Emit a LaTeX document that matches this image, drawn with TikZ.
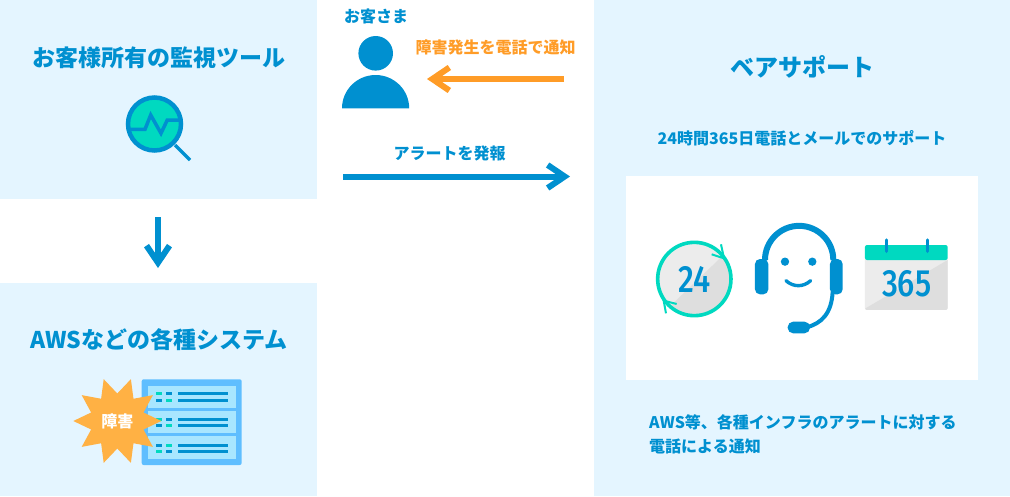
\documentclass[tikz,border=0pt]{standalone}
\usepackage{fontspec}
\setmainfont{Noto Sans CJK JP}
\newfontfamily\numfont{Fira Sans Medium}
\usetikzlibrary{arrows.meta,shapes.geometric}
\definecolor{panelblue}{HTML}{E4F5FF}
\definecolor{mainblue}{HTML}{0090D0}
\definecolor{mainteal}{HTML}{00D9C0}
\definecolor{alertorange}{HTML}{FF9C27}
\definecolor{burst}{HTML}{FFB144}
\definecolor{rack}{HTML}{5FBEFF}
\definecolor{rackrow}{HTML}{A8E6FF}
\definecolor{greylight}{HTML}{ECECEC}
\definecolor{greydark}{HTML}{DEDEDE}

\begin{document}
\begin{tikzpicture}[
    x=1pt, y=-1pt,
    title/.style = {text = mainblue, font = \fontsize{23}{28}\selectfont\bfseries},
    label/.style = {text = mainblue, font = \fontsize{16}{24}\selectfont\bfseries},
    digits/.style = {text = mainblue, xscale = .82, font = \fontsize{38}{40}\selectfont\numfont},
    bluearrow/.style = {draw = mainblue, line width = 6pt, -{Straight Barb[length=17pt,width=23pt]}},
    orangearrow/.style = {draw = alertorange, line width = 6pt, -{Straight Barb[length=17pt,width=23pt]}},
    ringtip/.style = {draw = mainteal, line width = 2pt},
  ]
	\useasboundingbox (0,0) rectangle (1010,496);
	
	% Flaechen
	\fill[panelblue] (0,0) rectangle (317,199);
	\fill[panelblue] (0,283) rectangle (317,496);
	\fill[panelblue] (594,0) rectangle (1010,496);
	\fill[white] (626,176) rectangle (978,380);
	
	% Texte
	\node[title] (ToolTitle) at (159,58) {お客様所有の監視ツール};
	\node[title] (SystemTitle) at (159,340) {AWSなどの各種システム};
	\node[title, font = \fontsize{24}{28}\selectfont\bfseries] (SupportTitle) at (802.5,67) {ベアサポート};
	\node[label] (Customer) at (376,16) {お客さま};
	\node[label, text = alertorange] (PhoneLabel) at (495.5,47) {障害発生を電話で通知};
	\node[label] (AlertLabel) at (449.5,153) {アラートを発報};
	\node[label] (SupportLabel) at (802,138) {24時間365日電話とメールでのサポート};
	\node[label, align = left, anchor = west] (NoteLabel) at (645.7,434) {AWS等、各種インフラのアラートに対する\\電話による通知};
	
	% Pfeile
	\coordinate (PhoneStart) at (564,79);
	\coordinate (PhoneEnd) at (427,79);
	\coordinate (AlertStart) at (343,176.5);
	\coordinate (AlertEnd) at (570,176.5);
	\coordinate (DownStart) at (158,217);
	\coordinate (DownEnd) at (158,268);
	\draw[orangearrow] (PhoneStart) -- (PhoneEnd);
	\draw[bluearrow] (AlertStart) -- (AlertEnd);
	\draw[bluearrow] (DownStart) -- (DownEnd);
	
	% Person
	\fill[mainblue] (375.7,53.3) circle (17.3);
	\fill[mainblue] (342,108.3) arc (180:360:33.6 and 33.3) -- cycle;
	
	% Lupe
	\fill[mainteal] (154.5,124) circle (26.5);
	\draw[mainblue, line width = 4.5pt] (154.5,124) circle (26.5);
	\draw[mainblue, line width = 3.5pt] (175,145) -- (190,160);
	\draw[mainblue, line width = 3.5pt] (127,129.3) -- (145,129.3) -- (150.7,115) -- (161,133.3) -- (167.3,120) -- (180,120);
	
	% Server
	\fill[rack, rounded corners = 2pt] (141.7,379.3) rectangle (241.7,465);
	\foreach \top/\bot/\ya/\yb/\one/\two in {385.7/407.7/393.7/400.3/mainteal/mainblue, 410.7/433.3/419.3/425.7/mainteal/mainblue, 436.3/459/445/451.3/mainblue/mainteal}{
		\fill[rackrow] (147.7,\top) rectangle (235.7,\bot);
		\fill[\one] (156.3,\ya-1.5) rectangle (162.3,\ya+1.5);
		\fill[\two] (166,\ya-1.5) rectangle (172,\ya+1.5);
		\fill[\two] (156.3,\yb-1.5) rectangle (162.3,\yb+1.5);
		\fill[\one] (166,\yb-1.5) rectangle (172,\yb+1.5);
		\fill[mainblue] (178.3,\ya-1.5) rectangle (227.7,\ya+1.5);
		\fill[mainblue] (178.3,\yb-1.5) rectangle (227.7,\yb+1.5);
	}
	\node[star, star points = 10, star point ratio = 1.6, shape border rotate = 18,
		minimum size = 88pt, inner sep = 0pt, fill = burst, text = white,
		font = \fontsize{16}{20}\selectfont\bfseries] (Burst) at (117.3,421) {障害};
	
	% Uhr 24
	\begin{scope}[shift={(640,210)}, x=.3333pt, y=-.3333pt]
		\fill[greylight] (163,207) circle (110);
		\begin{scope}
			\clip (163,207) circle (110);
			\fill[greydark] (290,97) -- (45,332) -- (320,332) -- cycle;
		\end{scope}
		\draw[mainteal, line width = 3.6pt] (163,207) circle (110);
		\draw[ringtip] (243,103) -- (252,145) -- (215,133);
		\draw[ringtip] (78,310) -- (71,272) -- (110,282);
		\node[digits] (ClockText) at (163,207) {24};
	\end{scope}
	
	% Headset
	\begin{scope}[shift={(640,210)}, x=.3333pt, y=-.3333pt]
		\draw[mainblue, line width = 6pt] (375,150) arc (180:360:102.5);
		\draw[mainblue, line width = 4pt] (578,245) .. controls (575,310) and (545,340) .. (500,352);
		\fill[mainblue, rounded corners = 5pt] (345,147) rectangle (385,253);
		\fill[mainblue, rounded corners = 5pt] (570,147) rectangle (608,253);
		\fill[mainblue] (435,155) circle (12.5);
		\fill[mainblue] (517,155) circle (12.5);
		\draw[mainblue, line width = 3.4pt, line cap = round] (438,212) .. controls (460,232) and (490,232) .. (512,212);
		\fill[mainblue, rounded corners = 5.5pt] (443,335) rectangle (510,370);
	\end{scope}
	
	% Kalender
	\begin{scope}[shift={(640,210)}, x=.3333pt, y=-.3333pt]
		\fill[greylight, rounded corners = 2pt] (675,140) rectangle (923,300);
		\begin{scope}
			\clip[rounded corners = 2pt] (675,140) rectangle (923,300);
			\fill[greydark] (923,150) -- (675,296) -- (675,300) -- (923,300) -- cycle;
		\end{scope}
		\fill[mainteal, rounded corners = 2pt] (675,105) rectangle (923,150);
		\draw[mainblue, line width = 3.4pt, line cap = round] (739,90) -- (739,124);
		\draw[mainblue, line width = 3.4pt, line cap = round] (862,90) -- (862,124);
		\node[digits] (CalendarText) at (800,222) {365};
	\end{scope}
\end{tikzpicture}
\end{document}
